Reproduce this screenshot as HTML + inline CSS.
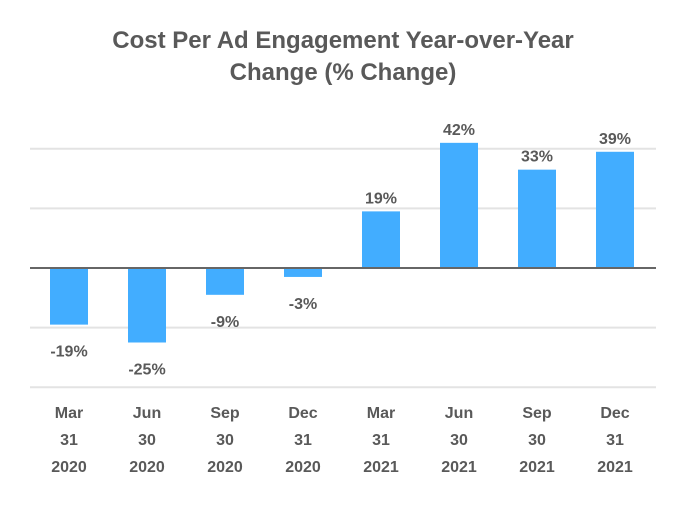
<!DOCTYPE html>
<html><head><style>
body{margin:0;background:#fff;}
svg text{font-family:"Liberation Sans",Arial,sans-serif;font-weight:bold;fill:#595959;}
</style></head><body>
<svg width="686" height="500">
<text x="343" y="48" text-anchor="middle" font-size="24">Cost Per Ad Engagement Year-over-Year</text>
<text x="343" y="80" text-anchor="middle" font-size="24">Change (% Change)</text>
<g id="grid"></g><g id="bars"></g><g id="labels"></g><g id="xlabels"></g>
</svg>
<script>
const categories=[["Mar","31","2020"],["Jun","30","2020"],["Sep","30","2020"],["Dec","31","2020"],["Mar","31","2021"],["Jun","30","2021"],["Sep","30","2021"],["Dec","31","2021"]];
const values=[-19,-25,-9,-3,19,42,33,39];
const gridTicks=[40,20,-20,-40];
const NS="http://www.w3.org/2000/svg";
const x0=30,x1=656,step=78,bw=38,zeroY=268,ppu=2.98;
const y=v=>zeroY-v*ppu;
const xc=i=>x0+39+i*step;
function mk(t,a,p){const e=document.createElementNS(NS,t);for(const k in a)e.setAttribute(k,a[k]);document.getElementById(p).appendChild(e);return e;}
gridTicks.forEach(t=>{const l=mk('line',{x1:x0,x2:x1,y1:y(t),y2:y(t),stroke:'#e3e3e3','stroke-width':2},'grid');

});
values.forEach((v,i)=>{
const r=mk('rect',{x:xc(i)-bw/2,width:bw,y:Math.min(y(v),zeroY),height:Math.abs(y(v)-zeroY),fill:'#42adff'},'bars');


const t=mk('text',{x:xc(i),y:v>=0?y(v)-8:y(v)+32,'text-anchor':'middle','font-size':16},'labels');
t.textContent=v+'%';


categories[i].forEach((s,j)=>{const c=mk('text',{x:xc(i),y:418+j*27,'text-anchor':'middle','font-size':16},'xlabels');
c.textContent=s;

});
});
const z=mk('line',{x1:x0,x2:x1,y1:zeroY,y2:zeroY,stroke:'#666','stroke-width':2},'labels');


</script>
</body></html>
